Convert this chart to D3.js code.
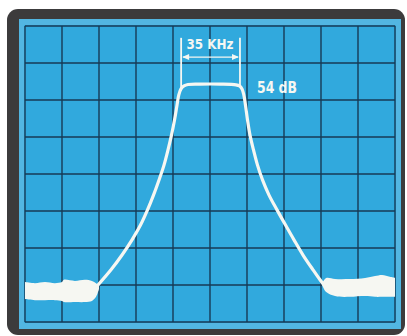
<!DOCTYPE html>
<html>
<head>
<meta charset="utf-8">
<script src="https://cdn.jsdelivr.net/npm/d3@7"></script>
<style>
  body { margin: 0; background: #fff; }
  svg { display: block; }
</style>
</head>
<body>
<svg id="chart" width="407" height="336"></svg>
<script>
// screen is 10 divisions wide, 8 divisions tall at 10 dB/div
var xDivs = d3.range(0, 11);
var yLevels = d3.range(0, -81, -10);

// main trace: [division, dB]
var traceDiv = [1.973, 2.324, 2.622, 2.892, 3.122, 3.311, 3.473, 3.622, 3.757, 3.865, 3.959, 4.041, 4.108, 4.157, 4.216, 4.297, 4.405,
                4.73, 5.27,
                5.703, 5.797, 5.865, 5.914, 5.959, 6.014, 6.081, 6.176, 6.284, 6.419, 6.595, 6.811, 7.041, 7.270, 7.514, 7.784, 7.973, 8.081];
var traceDb  = [-70.0, -65.9, -61.9, -57.8, -53.8, -49.7, -45.7, -41.6, -37.6, -33.5, -29.5, -25.4, -21.4, -18.6, -17.0, -16.2, -15.8,
                -15.7, -15.7,
                -15.9, -16.2, -17.0, -18.6, -21.4, -25.4, -29.5, -33.5, -37.6, -41.6, -45.7, -49.7, -53.8, -57.8, -61.9, -65.9, -68.6, -70.0];

// noise floor bands (upper / lower edge)
var noiseLeftDiv   = [0, 0.27, 0.54, 0.81, 1.0, 1.05, 1.35, 1.62, 1.81, 1.92, 2.0];
var noiseLeftTop   = [-69.2, -69.5, -69.2, -69.5, -69.2, -68.6, -68.9, -68.6, -68.9, -69.5, -70.3];
var noiseLeftBot   = [-73.8, -74.1, -74.1, -74.1, -74.3, -74.6, -74.6, -74.6, -74.3, -73.2, -71.1];
var noiseRightDiv  = [8.03, 8.14, 8.38, 8.78, 9.19, 9.46, 9.65, 9.86, 10];
var noiseRightTop  = [-69.5, -68.1, -68.4, -68.4, -68.1, -67.6, -67.3, -67.8, -68.1];
var noiseRightBot  = [-70.0, -71.9, -73.0, -73.2, -73.0, -73.2, -73.2, -73.2, -73.2];

// annotations
var bwLabel = "35 KHz";
var bwEdges = [4.22, 5.81];
var levelLabel = "54 dB";

var svg = d3.select("#chart");

var x = d3.scaleLinear().domain([0, 10]).range([25, 395]);
var y = d3.scaleLinear().domain([0, -80]).range([26, 322]);

// bezel + screen
svg.append("rect").attr("x", 7).attr("y", 9).attr("width", 398).attr("height", 326)
   .attr("rx", 11).attr("fill", "#3c3b3c");
svg.append("rect").attr("x", 19).attr("y", 19).attr("width", 382).attr("height", 310)
   .attr("fill", "#52b6e2");
svg.append("rect").attr("x", 24).attr("y", 25).attr("width", 372).attr("height", 298)
   .attr("fill", "#31a9dd");

// graticule
var grid = svg.append("g").attr("stroke", "#173a55").attr("stroke-width", 1.4);
grid.selectAll("line.v").data(xDivs).enter().append("line")
    .attr("x1", function(d) { return x(d); }).attr("x2", function(d) { return x(d); })
    .attr("y1", y(0)).attr("y2", y(-80));
grid.selectAll("line.h").data(yLevels).enter().append("line")
    .attr("y1", function(d) { return y(d); }).attr("y2", function(d) { return y(d); })
    .attr("x1", x(0)).attr("x2", x(10));

var white = "#f6f7f2";

function band(divs, top, bot) {
  var pts = divs.map(function(d, i) { return { x: d, t: top[i], b: bot[i] }; });
  return d3.area()
    .x(function(d) { return x(d.x); })
    .y0(function(d) { return y(d.b); })
    .y1(function(d) { return y(d.t); })
    .curve(d3.curveCatmullRom)(pts);
}
svg.append("path").attr("d", band(noiseLeftDiv, noiseLeftTop, noiseLeftBot)).attr("fill", white);
svg.append("path").attr("d", band(noiseRightDiv, noiseRightTop, noiseRightBot)).attr("fill", white);

var trace = traceDiv.map(function(d, i) { return [d, traceDb[i]]; });
svg.append("path")
   .attr("d", d3.line()
      .x(function(d) { return x(d[0]); })
      .y(function(d) { return y(d[1]); })
      .curve(d3.curveCatmullRom.alpha(0.5))(trace))
   .attr("fill", "none").attr("stroke", white).attr("stroke-width", 3.2)
   .attr("stroke-linejoin", "round").attr("stroke-linecap", "round");

// bandwidth marker
var ann = svg.append("g").attr("stroke", white).attr("fill", "none");
ann.append("line").attr("x1", x(bwEdges[0])).attr("x2", x(bwEdges[0]))
   .attr("y1", y(-3.2)).attr("y2", y(-17.5)).attr("stroke-width", 1.8);
ann.append("line").attr("x1", x(bwEdges[1])).attr("x2", x(bwEdges[1]))
   .attr("y1", y(-3.2)).attr("y2", y(-16.5)).attr("stroke-width", 1.8);
ann.append("line").attr("x1", x(bwEdges[0]) + 2).attr("x2", x(bwEdges[1]) - 2)
   .attr("y1", y(-8.4)).attr("y2", y(-8.4)).attr("stroke-width", 1.3);
[[bwEdges[0], 1], [bwEdges[1], -1]].forEach(function(a) {
  var px = x(a[0]) + a[1], py = y(-8.4);
  svg.append("path")
     .attr("d", "M" + px + "," + py + "l" + (a[1] * 7) + ",-3l0,6z")
     .attr("fill", white);
});

svg.append("text").attr("x", x(5)).attr("y", y(-6.2))
   .attr("text-anchor", "middle")
   .attr("font-family", "DejaVu Sans Condensed, DejaVu Sans")
   .attr("font-weight", "bold").attr("font-size", 14)
   .attr("textLength", 47).attr("lengthAdjust", "spacingAndGlyphs")
   .attr("fill", white).text(bwLabel);

svg.append("text").attr("x", x(6.27)).attr("y", y(-18.1))
   .attr("font-family", "DejaVu Sans Condensed, DejaVu Sans")
   .attr("font-weight", "bold").attr("font-size", 15)
   .attr("textLength", 40).attr("lengthAdjust", "spacingAndGlyphs")
   .attr("fill", white).text(levelLabel);
</script>
</body>
</html>
